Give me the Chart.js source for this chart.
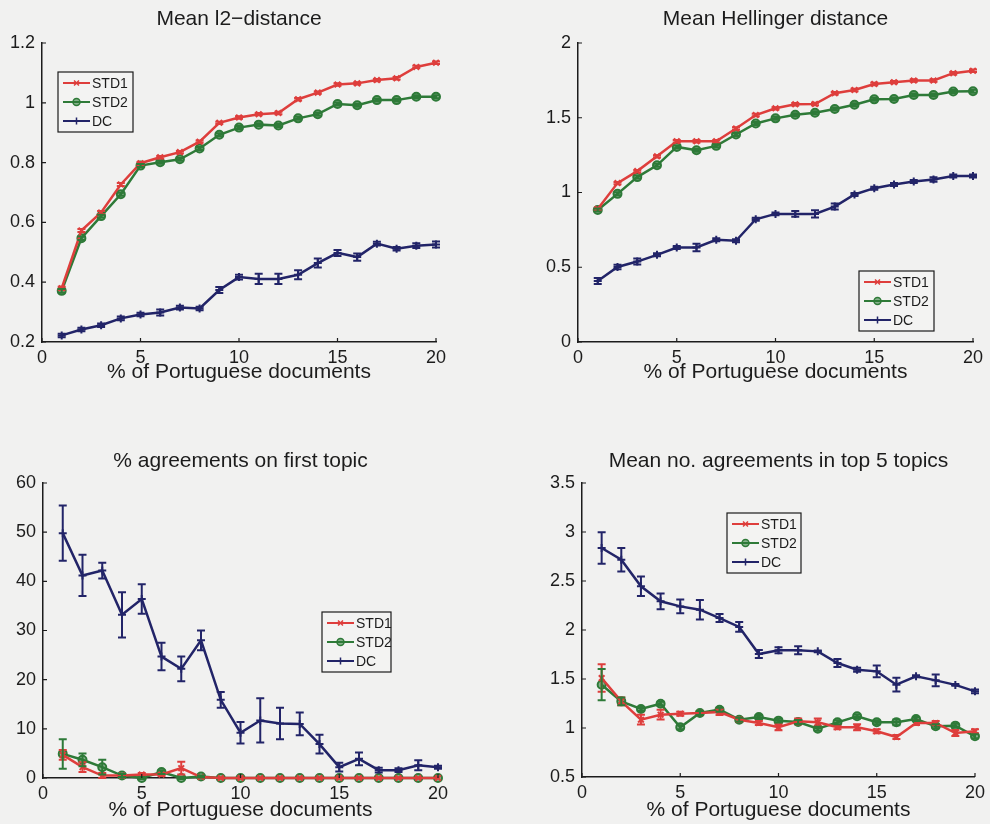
<!DOCTYPE html>
<html>
<head>
<meta charset="utf-8">
<script src="https://cdn.jsdelivr.net/npm/chart.js@4.4.1/dist/chart.umd.min.js"></script>
<style>
  body { margin: 0; background: #f1f1f0; width: 990px; height: 824px; overflow: hidden; position: relative; }
  canvas { position: absolute; }
</style>
</head>
<body>
<canvas id="l2" width="470" height="400" style="left:0;top:0"></canvas>
<canvas id="hel" width="490" height="400" style="left:500px;top:0"></canvas>
<canvas id="first" width="470" height="404" style="left:0;top:420px"></canvas>
<canvas id="top5" width="490" height="404" style="left:500px;top:420px"></canvas>
<script>
// x values: % of Portuguese documents
const pct = [1, 2, 3, 4, 5, 6, 7, 8, 9, 10, 11, 12, 13, 14, 15, 16, 17, 18, 19, 20];
const seriesNames = ['STD1', 'STD2', 'DC'];

// Mean l2-distance
const l2Std1 = [0.38, 0.573, 0.633, 0.727, 0.798, 0.818, 0.835, 0.870, 0.933, 0.951, 0.962, 0.966, 1.012, 1.034, 1.061, 1.065, 1.076, 1.082, 1.120, 1.134];
const l2Std1Err = [0.005, 0.005, 0.005, 0.005, 0.004, 0.004, 0.004, 0.004, 0.004, 0.004, 0.004, 0.004, 0.004, 0.004, 0.004, 0.004, 0.004, 0.004, 0.004, 0.004];
const l2Std2 = [0.371, 0.547, 0.621, 0.694, 0.790, 0.801, 0.811, 0.847, 0.893, 0.917, 0.927, 0.924, 0.948, 0.962, 0.996, 0.992, 1.009, 1.009, 1.020, 1.020];
const l2Std2Err = [0.006, 0.006, 0.005, 0.005, 0.005, 0.005, 0.005, 0.005, 0.005, 0.005, 0.005, 0.005, 0.005, 0.005, 0.005, 0.005, 0.005, 0.005, 0.005, 0.005];
const l2Dc = [0.222, 0.242, 0.256, 0.279, 0.292, 0.299, 0.315, 0.312, 0.374, 0.417, 0.411, 0.411, 0.425, 0.464, 0.498, 0.484, 0.529, 0.512, 0.522, 0.526];
const l2DcErr = [0.006, 0.006, 0.006, 0.006, 0.006, 0.01, 0.006, 0.006, 0.01, 0.008, 0.017, 0.017, 0.015, 0.015, 0.01, 0.012, 0.006, 0.006, 0.008, 0.01];

// Mean Hellinger distance
const helStd1 = [0.89, 1.063, 1.143, 1.242, 1.343, 1.343, 1.343, 1.428, 1.518, 1.563, 1.590, 1.592, 1.664, 1.686, 1.726, 1.738, 1.749, 1.749, 1.798, 1.814];
const helStd1Err = [0.008, 0.008, 0.008, 0.008, 0.008, 0.008, 0.008, 0.008, 0.008, 0.008, 0.008, 0.008, 0.008, 0.008, 0.008, 0.008, 0.008, 0.008, 0.008, 0.008];
const helStd2 = [0.883, 0.991, 1.103, 1.182, 1.305, 1.283, 1.312, 1.388, 1.462, 1.496, 1.520, 1.534, 1.558, 1.587, 1.623, 1.626, 1.652, 1.652, 1.675, 1.677];
const helStd2Err = [0.01, 0.01, 0.01, 0.01, 0.01, 0.01, 0.01, 0.01, 0.01, 0.01, 0.01, 0.01, 0.01, 0.01, 0.01, 0.01, 0.01, 0.01, 0.01, 0.01];
const helDc = [0.408, 0.502, 0.538, 0.583, 0.632, 0.632, 0.684, 0.677, 0.821, 0.857, 0.857, 0.857, 0.906, 0.987, 1.029, 1.054, 1.074, 1.087, 1.110, 1.110];
const helDcErr = [0.02, 0.015, 0.02, 0.01, 0.01, 0.025, 0.01, 0.01, 0.01, 0.01, 0.02, 0.025, 0.02, 0.01, 0.01, 0.01, 0.01, 0.015, 0.01, 0.01];

// % agreements on first topic
const firstStd1 = [4.7, 2.2, 0.5, 0.5, 0.7, 0.7, 2.0, 0.2, 0, 0, 0, 0, 0, 0, 0, 0, 0, 0, 0, 0];
const firstStd1Err = [1.0, 1.0, 0.5, 0.3, 0.3, 0.3, 1.3, 0.2, 0, 0, 0, 0, 0, 0, 0, 0, 0, 0, 0, 0];
const firstStd2 = [4.9, 3.7, 2.2, 0.5, 0, 1.2, 0, 0.3, 0, 0, 0, 0, 0, 0, 0, 0, 0, 0, 0, 0];
const firstStd2Err = [3.0, 1.3, 1.5, 0.3, 0.2, 0.4, 0.2, 0.2, 0, 0, 0, 0, 0, 0, 0, 0, 0, 0, 0, 0];
const firstDc = [49.8, 41.2, 42.2, 33.2, 36.4, 24.7, 22.2, 28.0, 15.9, 9.2, 11.7, 11.1, 11.0, 6.9, 2.2, 3.9, 1.6, 1.6, 2.6, 2.2];
const firstDcErr = [5.6, 4.2, 1.6, 4.6, 3.0, 2.8, 2.5, 2.0, 1.6, 2.2, 4.5, 3.2, 2.3, 1.9, 0.9, 1.3, 0.5, 0.4, 1.0, 0.3];

// Mean no. agreements in top 5 topics
const top5Std1 = [1.51, 1.272, 1.085, 1.136, 1.146, 1.153, 1.163, 1.085, 1.051, 1.007, 1.068, 1.058, 1.007, 1.007, 0.966, 0.908, 1.051, 1.051, 0.949, 0.966];
const top5Std1Err = [0.14, 0.04, 0.05, 0.05, 0.02, 0.02, 0.03, 0.02, 0.02, 0.03, 0.03, 0.04, 0.02, 0.03, 0.02, 0.02, 0.02, 0.02, 0.03, 0.02];
const top5Std2 = [1.442, 1.272, 1.194, 1.248, 1.007, 1.153, 1.187, 1.085, 1.112, 1.075, 1.061, 0.993, 1.058, 1.119, 1.058, 1.058, 1.092, 1.017, 1.024, 0.915];
const top5Std2Err = [0.16, 0.04, 0.02, 0.02, 0.02, 0.02, 0.02, 0.02, 0.02, 0.02, 0.02, 0.02, 0.02, 0.02, 0.02, 0.03, 0.02, 0.02, 0.02, 0.02];
const top5Dc = [2.837, 2.718, 2.446, 2.293, 2.241, 2.207, 2.122, 2.031, 1.755, 1.793, 1.793, 1.782, 1.663, 1.595, 1.578, 1.442, 1.527, 1.486, 1.44, 1.374];
const top5DcErr = [0.16, 0.12, 0.1, 0.08, 0.07, 0.1, 0.04, 0.05, 0.04, 0.03, 0.04, 0.01, 0.04, 0.02, 0.06, 0.07, 0.01, 0.06, 0.01, 0.02];

const RED = 'rgb(222, 62, 60)';
const GREEN = 'rgb(46, 122, 56)';
const BLUE = 'rgb(34, 36, 104)';
const INK = '#1c1c1c';
const FONT = '"Liberation Sans", Arial, sans-serif';

Chart.defaults.font.family = FONT;
Chart.defaults.color = INK;

// vertical error bars, drawn through the chart's own scales
const errorBars = {
    id: 'errorBars',
    afterDatasetsDraw(chart) {
        const { ctx, scales: { x, y } } = chart;
        ctx.save();
        chart.data.datasets.forEach(ds => {
            ctx.strokeStyle = ds.borderColor;
            ctx.lineWidth = 2;
            ds.data.forEach((p, i) => {
                const e = ds.errors[i];
                if (!e) return;
                const px = x.getPixelForValue(p.x);
                const top = y.getPixelForValue(p.y + e);
                const bot = y.getPixelForValue(p.y - e);
                ctx.beginPath();
                ctx.moveTo(px, top); ctx.lineTo(px, bot);
                ctx.moveTo(px - 4, top); ctx.lineTo(px + 4, top);
                ctx.moveTo(px - 4, bot); ctx.lineTo(px + 4, bot);
                ctx.stroke();
            });
        });
        ctx.restore();
    }
};

// small inward ticks like matlab axes
const innerTicks = {
    id: 'innerTicks',
    afterDraw(chart) {
        const { ctx, chartArea: a, scales: { x, y } } = chart;
        ctx.save();
        ctx.strokeStyle = INK;
        ctx.lineWidth = 1.2;
        ctx.beginPath();
        x.ticks.forEach(t => {
            const px = x.getPixelForValue(t.value);
            ctx.moveTo(px, a.bottom); ctx.lineTo(px, a.bottom - 4);
        });
        y.ticks.forEach(t => {
            const py = y.getPixelForValue(t.value);
            ctx.moveTo(a.left, py); ctx.lineTo(a.left + 4, py);
        });
        ctx.stroke();
        ctx.restore();
    }
};

// title centred over the axes box, not the whole canvas
const panelTitle = {
    id: 'panelTitle',
    afterDraw(chart, args, opts) {
        const { ctx, chartArea } = chart;
        ctx.save();
        ctx.font = '21px ' + FONT;
        ctx.fillStyle = INK;
        ctx.textAlign = 'center';
        ctx.textBaseline = 'middle';
        ctx.fillText(opts.text, (chartArea.left + chartArea.right) / 2, opts.y);
        ctx.restore();
    }
};

// boxed legend placed inside the axes
const boxLegend = {
    id: 'boxLegend',
    afterDraw(chart, args, opts) {
        const { ctx, chartArea } = chart;
        const bx = chartArea.left + opts.x;
        const by = chartArea.top + opts.y;
        ctx.save();
        ctx.fillStyle = '#f3f3f2';
        ctx.fillRect(bx, by, opts.w, 60);
        ctx.strokeStyle = INK;
        ctx.lineWidth = 1.2;
        ctx.strokeRect(bx, by, opts.w, 60);
        chart.data.datasets.forEach((ds, i) => {
            const ry = by + 11 + i * 19;
            ctx.strokeStyle = ds.borderColor;
            ctx.lineWidth = 2;
            ctx.beginPath();
            ctx.moveTo(bx + 5, ry); ctx.lineTo(bx + 32, ry);
            ctx.stroke();
            ctx.fillStyle = ds.pointBackgroundColor;
            ctx.strokeStyle = ds.borderColor;
            ctx.lineWidth = 1.5;
            Chart.helpers.drawPoint(ctx, { pointStyle: ds.pointStyle, radius: 3.5, borderWidth: 1.5, rotation: 0 }, bx + 18.5, ry);
            ctx.fillStyle = INK;
            ctx.font = '14px ' + FONT;
            ctx.textBaseline = 'middle';
            ctx.fillText(ds.label, bx + 34, ry + 1);
        });
        ctx.restore();
    }
};

function series(label, values, errors, color, style) {
    return {
        label: label,
        data: pct.map((x, i) => ({ x: x, y: values[i] })),
        errors: errors,
        borderColor: color,
        borderWidth: 2.5,
        pointStyle: style,
        pointRadius: 4,
        pointBorderWidth: 2,
        pointBorderColor: color,
        pointBackgroundColor: style === 'circle' ? 'rgba(46, 122, 56, 0.55)' : color,
        tension: 0,
        clip: false
    };
}

// matlab style tick text: 1 instead of 1.0
const tickText = v => String(Math.round(v * 100) / 100);

function panel(id, opt) {
    return new Chart(document.getElementById(id), {
        type: 'line',
        data: {
            datasets: [
                series(seriesNames[0], opt.std1, opt.std1Err, RED, 'crossRot'),
                series(seriesNames[1], opt.std2, opt.std2Err, GREEN, 'circle'),
                series(seriesNames[2], opt.dc, opt.dcErr, BLUE, 'cross')
            ]
        },
        options: {
            responsive: false,
            animation: false,
            layout: { padding: { left: 0, right: opt.padRight, top: opt.padTop, bottom: 0 } },
            plugins: {
                legend: { display: false },
                tooltip: { enabled: false },
                title: { display: false },
                panelTitle: { text: opt.title, y: opt.titleY },
                boxLegend: opt.legend
            },
            scales: {
                x: {
                    type: 'linear',
                    min: 0, max: 20,
                    grid: { display: false, drawTicks: false },
                    border: { display: true, color: INK, width: 1.5 },
                    ticks: { stepSize: 5, padding: 5, font: { size: 18 }, color: INK, maxRotation: 0, callback: tickText },
                    title: { display: true, text: '% of Portuguese documents', font: { size: 21 }, color: INK, padding: { top: 0, bottom: opt.xTitlePad } },
                    afterFit: s => { s.height = opt.xHeight; }
                },
                y: {
                    min: opt.yMin, max: opt.yMax,
                    grid: { display: false, drawTicks: false },
                    border: { display: true, color: INK, width: 1.5 },
                    ticks: { stepSize: opt.yStep, padding: 7, font: { size: 18 }, color: INK, callback: tickText },
                    afterFit: s => { s.width = opt.yWidth; }
                }
            }
        },
        plugins: [errorBars, innerTicks, panelTitle, boxLegend]
    });
}

panel('l2', {
    title: 'Mean l2\u2212distance',
    std1: l2Std1, std1Err: l2Std1Err, std2: l2Std2, std2Err: l2Std2Err, dc: l2Dc, dcErr: l2DcErr,
    yMin: 0.2, yMax: 1.2, yStep: 0.2,
    yWidth: 42, padRight: 34, padTop: 43, xHeight: 58, xTitlePad: 15, titleY: 19,
    legend: { x: 16, y: 29, w: 75 }
});

panel('hel', {
    title: 'Mean Hellinger distance',
    std1: helStd1, std1Err: helStd1Err, std2: helStd2, std2Err: helStd2Err, dc: helDc, dcErr: helDcErr,
    yMin: 0, yMax: 2, yStep: 0.5,
    yWidth: 78, padRight: 17, padTop: 43, xHeight: 58, xTitlePad: 15, titleY: 19,
    legend: { x: 281, y: 228, w: 75 }
});

panel('first', {
    title: '% agreements on first topic',
    std1: firstStd1, std1Err: firstStd1Err, std2: firstStd2, std2Err: firstStd2Err, dc: firstDc, dcErr: firstDcErr,
    yMin: 0, yMax: 60, yStep: 10,
    yWidth: 43, padRight: 32, padTop: 63, xHeight: 46, xTitlePad: 1, titleY: 41,
    legend: { x: 279, y: 129, w: 69 }
});

panel('top5', {
    title: 'Mean no. agreements in top 5 topics',
    std1: top5Std1, std1Err: top5Std1Err, std2: top5Std2, std2Err: top5Std2Err, dc: top5Dc, dcErr: top5DcErr,
    yMin: 0.5, yMax: 3.5, yStep: 0.5,
    yWidth: 82, padRight: 15, padTop: 63, xHeight: 47, xTitlePad: 1, titleY: 41,
    legend: { x: 145, y: 30, w: 74 }
});
</script>
</body>
</html>
